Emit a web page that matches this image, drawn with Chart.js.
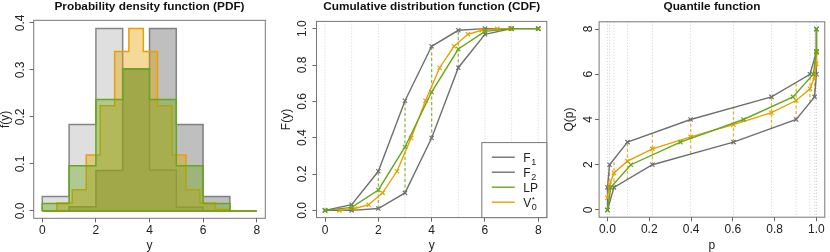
<!DOCTYPE html>
<html>
<head>
<meta charset="utf-8">
<script src="https://cdn.jsdelivr.net/npm/chart.js@4.4.0/dist/chart.umd.min.js"></script>
<style>
  html, body { margin: 0; padding: 0; background: #fff; }
  #wrap { position: relative; width: 830px; height: 252px; overflow: hidden; }
  .pane { position: absolute; top: 0; height: 252px; }
</style>
</head>
<body>
<div id="wrap">
  <div class="pane" style="left:0;width:280px"><canvas id="ch-pdf" width="280" height="252"></canvas></div>
  <div class="pane" style="left:280px;width:280px"><canvas id="ch-cdf" width="280" height="252"></canvas></div>
  <div class="pane" style="left:560px;width:270px"><canvas id="ch-qf" width="270" height="252"></canvas></div>
</div>
<script>
/* ── Data ── */
const yGrid = [0, 1, 2, 3, 4, 5, 6, 7, 8];

// PDF bin heights on [k, k+1)
const pdfF1 = [0.031, 0.184, 0.388, 0.302, 0.087, 0.008, 0, 0];
const pdfF2 = [0, 0.009, 0.086, 0.302, 0.388, 0.184, 0.031, 0];
const pdfLP = [0.016, 0.096, 0.237, 0.302, 0.237, 0.096, 0.016, 0];

// V0* : step edges + heights
const vEdges = [0, 0.54, 1.12, 1.64, 2.16, 2.70, 3.23, 3.77, 4.30, 4.84, 5.36, 5.88, 6.46, 6.95, 8];
const pdfV0  = [0, 0.017, 0.045, 0.119, 0.224, 0.339, 0.388, 0.339, 0.224, 0.119, 0.045, 0.017, 0.003, 0];

// CDF values at y = 0..8
const cdfF1 = [0, 0.031, 0.215, 0.603, 0.903, 0.991, 1, 1, 1];
const cdfF2 = [0, 0, 0.010, 0.096, 0.398, 0.785, 0.969, 1, 1];
const cdfLP = [0, 0.016, 0.112, 0.349, 0.651, 0.888, 0.985, 1, 1];

// V0* knots
const vKnots = [0.54, 1.12, 1.64, 2.16, 2.70, 3.23, 3.77, 4.30, 4.84, 5.36, 5.88, 6.46, 6.95];
const cdfV0  = [0, 0.010, 0.031, 0.096, 0.215, 0.398, 0.603, 0.785, 0.903, 0.969, 0.991, 0.999, 1];

// quantile spans between F1 and F2 at the V0* levels
const qP  = [0.010, 0.031, 0.096, 0.215, 0.398, 0.603, 0.785, 0.903, 0.969, 0.991, 0.999];
const qLo = [0.29, 1.00, 1.35, 2.00, 2.47, 3.00, 3.61, 4.00, 4.75, 5.00, 5.90];
const qHi = [2.00, 2.24, 3.00, 3.39, 4.00, 4.53, 5.00, 5.64, 6.00, 6.71, 7.00];

// ticks
const ticks08   = [0, 2, 4, 6, 8];
const ticksPdf  = [0, 0.1, 0.2, 0.3, 0.4];
const ticksUnit = [0, 0.2, 0.4, 0.6, 0.8, 1.0];

/* ── Style ── */
const GRAY = '#707070', GREEN = '#68A71B', ORANGE = '#E6A100';
const FONT = '"Liberation Sans", Arial, Helvetica, sans-serif';
Chart.defaults.font.family = FONT;
Chart.defaults.font.size = 12;
Chart.defaults.color = '#222';

/* ── Frame plugin: guides, spans, box, title, legend ── */
const frame = {
  id: 'frame',
  beforeDatasetsDraw(chart, args, o) {
    const { ctx, chartArea: a, scales: { x, y } } = chart;
    ctx.save();
    ctx.beginPath(); ctx.rect(a.left, a.top, a.width, a.height); ctx.clip();
    if (o.guides) {
      ctx.strokeStyle = '#d2d2d2'; ctx.lineWidth = 1; ctx.setLineDash([1, 2]);
      o.guides.forEach(v => {
        const px = x.getPixelForValue(v);
        ctx.beginPath(); ctx.moveTo(px, a.top); ctx.lineTo(px, a.bottom); ctx.stroke();
      });
    }
    if (o.spans) {
      const s = o.spans;
      ctx.strokeStyle = s.color; ctx.lineWidth = 1.3; ctx.setLineDash([3, 2.5]);
      s.at.forEach((v, i) => {
        const px = x.getPixelForValue(v);
        ctx.beginPath();
        ctx.moveTo(px, y.getPixelForValue(s.lo[i]));
        ctx.lineTo(px, y.getPixelForValue(s.hi[i]));
        ctx.stroke();
      });
    }
    ctx.restore();
  },
  afterDraw(chart, args, o) {
    const { ctx, chartArea: a } = chart;
    ctx.save();
    ctx.strokeStyle = '#777'; ctx.lineWidth = 1;
    ctx.strokeRect(a.left, a.top, a.width, a.height);
    ctx.fillStyle = '#111';
    ctx.font = 'bold 11.8px ' + FONT;
    ctx.textAlign = 'center'; ctx.textBaseline = 'alphabetic';
    ctx.fillText(o.title, (a.left + a.right) / 2, 10);
    if (o.legend) drawLegend(ctx, a, o.legend);
    ctx.restore();
  }
};

function drawLegend(ctx, a, items) {
  const w = 65, h = 75, L = a.right - w, T = a.bottom - h;
  ctx.fillStyle = '#fff'; ctx.fillRect(L, T, w, h);
  ctx.strokeStyle = '#777'; ctx.lineWidth = 1; ctx.strokeRect(L, T, w, h);
  items.forEach((it, i) => {
    const cy = T + 14.6 + i * 15;
    ctx.strokeStyle = it.color; ctx.lineWidth = 1.4;
    ctx.beginPath(); ctx.moveTo(L + 10, cy); ctx.lineTo(L + 33, cy); ctx.stroke();
    ctx.fillStyle = '#222'; ctx.textAlign = 'left'; ctx.textBaseline = 'alphabetic';
    ctx.font = '12px ' + FONT;
    ctx.fillText(it.text, L + 41.5, cy + 5);
    const xx = L + 41.5 + ctx.measureText(it.text).width + 0.5;
    if (it.sub) { ctx.font = '9px ' + FONT; ctx.fillText(it.sub, xx, cy + 8); }
    if (it.sup) { ctx.font = '8px ' + FONT; ctx.fillText(it.sup, xx, cy - 0.5); }
  });
}

/* ── Helpers ── */
function stepPts(edges, h, close) {
  const pts = [{ x: edges[0], y: 0 }];
  h.forEach((v, i) => pts.push({ x: edges[i], y: v }));
  pts.push({ x: edges[edges.length - 1], y: h[h.length - 1] });
  pts.push({ x: edges[edges.length - 1], y: 0 });
  if (close) pts.push({ x: edges[0], y: 0 });
  return pts;
}

// outline first (drawn on top), then the fill
function stepSets(edges, h, line, fill) {
  return [
    { data: stepPts(edges, h, true), stepped: 'before', borderColor: line, borderWidth: 1.5,
      pointRadius: 0, fill: false },
    { data: stepPts(edges, h, false), stepped: 'before', borderColor: 'transparent', borderWidth: 0,
      backgroundColor: fill, pointRadius: 0, fill: 'origin' }
  ];
}

function curve(xs, ys, color) {
  return {
    data: xs.map((v, i) => ({ x: v, y: ys[i] })),
    borderColor: color, backgroundColor: color, borderWidth: 1.4,
    pointStyle: 'crossRot', pointRadius: 3, pointBorderWidth: 1.2,
    pointBorderColor: color, fill: false
  };
}

function axis(range, tks, dec, title, isY, size, pad, tpad) {
  return {
    type: 'linear', min: range[0], max: range[1],
    afterBuildTicks: s => { s.ticks = tks.map(v => ({ value: v })); },
    afterFit: s => { if (isY) s.width = size; else s.height = size; },
    ticks: {
      callback: v => Number(v).toFixed(dec), padding: pad, autoSkip: false,
      minRotation: isY ? 90 : 0, maxRotation: isY ? 90 : 0,
      crossAlign: isY ? 'center' : 'near'
    },
    grid: { drawOnChartArea: false, tickLength: 4, color: '#666', lineWidth: 1 },
    border: { display: false },
    title: { display: true, text: title, padding: tpad, color: '#222', font: { size: 12, lineHeight: 1 } }
  };
}

function mkChart(id, datasets, box, scales, frameOpts) {
  return new Chart(document.getElementById(id), {
    type: 'line',
    data: { datasets },
    options: {
      responsive: false, animation: false, devicePixelRatio: 1, events: [],
      layout: { padding: { left: 0, top: box.T, right: box.W - box.R, bottom: 0 } },
      plugins: { legend: { display: false }, tooltip: { enabled: false }, frame: frameOpts },
      scales
    },
    plugins: [frame]
  });
}

/* ── PDF ── */
const b1 = { L: 33.7, R: 265.3, T: 20.3, B: 218.3, W: 280 };
mkChart('ch-pdf', [
  ...stepSets(yGrid, pdfLP, GREEN, 'rgba(104,167,27,0.4)'),
  ...stepSets(vEdges, pdfV0, ORANGE, 'rgba(230,159,0,0.4)'),
  ...stepSets(yGrid, pdfF2, 'rgba(90,90,90,0.7)', 'rgba(128,128,128,0.5)'),
  ...stepSets(yGrid, pdfF1, 'rgba(90,90,90,0.7)', 'rgba(128,128,128,0.25)')
], b1, {
  x: axis([-0.32, 8.32], ticks08, 0, 'y', false, 252 - b1.B, 1.5, { top: 0, bottom: 0.3 }),
  y: axis([-0.0156, 0.4056], ticksPdf, 1, 'f(y)', true, b1.L, 0.6, { top: 0, bottom: 0 })
}, { title: 'Probability density function (PDF)' });

/* ── CDF ── */
const b2 = { L: 36.5, R: 266.8, T: 21.4, B: 217.6, W: 280 };
mkChart('ch-cdf', [
  curve(yGrid, cdfLP, GREEN),
  curve(vKnots, cdfV0, ORANGE),
  curve(yGrid, cdfF2, GRAY),
  curve(yGrid, cdfF1, GRAY)
], b2, {
  x: axis([-0.32, 8.32], ticks08, 0, 'y', false, 252 - b2.B, 1.5, { top: 0, bottom: 0.3 }),
  y: axis([-0.04, 1.04], ticksUnit, 1, 'F(y)', true, b2.L, 1.7, { top: 0.3, bottom: 0 })
}, {
  title: 'Cumulative distribution function (CDF)',
  guides: yGrid,
  spans: { at: yGrid, lo: cdfF2, hi: cdfF1, color: 'rgba(104,167,27,0.75)' },
  legend: [
    { text: 'F', sub: '1', color: GRAY },
    { text: 'F', sub: '2', color: GRAY },
    { text: 'LP', color: GREEN },
    { text: 'V', sub: '0', sup: '*', color: ORANGE }
  ]
});

/* ── Quantile function ── */
const b3 = { L: 39.1, R: 269.4, T: 21.8, B: 217.2, W: 270 };
mkChart('ch-qf', [
  curve(cdfLP, yGrid, GREEN),
  curve(cdfV0, vKnots, ORANGE),
  curve(cdfF2, yGrid, GRAY),
  curve(cdfF1, yGrid, GRAY)
], b3, {
  x: axis([-0.04, 1.04], ticksUnit, 1, 'p', false, 252 - b3.B, 1.5, { top: 0, bottom: 0.3 }),
  y: axis([-0.32, 8.32], ticks08, 0, 'Q(p)', true, b3.L, 3.4, { top: 4, bottom: 0 })
}, {
  title: 'Quantile function',
  guides: [0, ...qP, 1],
  spans: { at: qP, lo: qLo, hi: qHi, color: 'rgba(230,161,0,0.8)' }
});
</script>
</body>
</html>
